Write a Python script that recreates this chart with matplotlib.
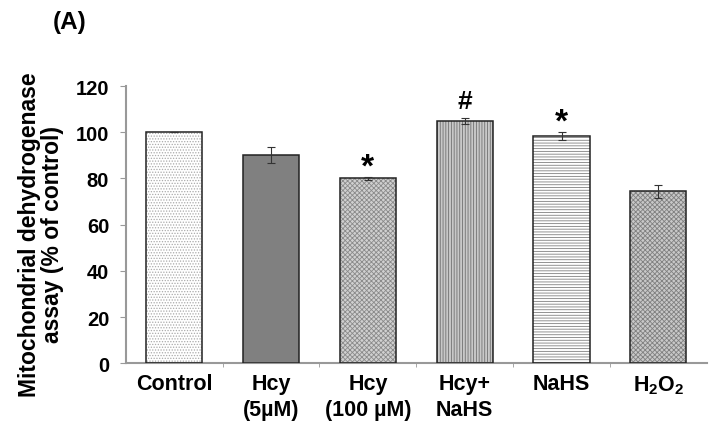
import matplotlib
matplotlib.use("Agg")
import matplotlib.pyplot as plt
import numpy as np

plt.rcParams['font.family'] = ['Liberation Sans', 'DejaVu Sans']
plt.rcParams['mathtext.fontset'] = 'custom'
plt.rcParams['mathtext.rm'] = 'Liberation Sans:bold'
plt.rcParams['mathtext.bf'] = 'Liberation Sans:bold'
plt.rcParams['mathtext.default'] = 'rm'
plt.rcParams['hatch.linewidth'] = 0.6

# data
categories = ['Control', 'Hcy\n(5µM)', 'Hcy\n(100 µM)', 'Hcy+\nNaHS', 'NaHS', 'H$_2$O$_2$']
values = [100, 90, 80, 105, 98.5, 74.5]
errors = [0, 3.5, 0.6, 1.3, 1.8, 2.8]
marks = ['', '', '*', '#', '*', '']

# styles per bar
faces = ['white', '#808080', '#d0d0d0', '#c8c8c8', 'white', '#c8c8c8']
hatches = ['......', None, 'xxxxxxx', '||||||', '------', 'xxxxxxx']
hcolors = ['#aaaaaa', '#808080', '#8a8a8a', '#707070', '#808080', '#808080']
mark_size = {'*': 24, '#': 19}
mark_off = {'*': 0.5, '#': 4.0}

fig = plt.figure(figsize=(7.11, 4.31), dpi=100)
ax = fig.add_axes([0.177, 0.155, 0.817, 0.643])

x = np.arange(len(values))
w = 0.58
for i in range(len(values)):
    ax.bar(x[i], values[i], w, color=faces[i], hatch=hatches[i],
           edgecolor=hcolors[i], linewidth=0, zorder=2)
ax.bar(x, values, w, fill=False, edgecolor='#222222', linewidth=1.1, zorder=3)
ax.errorbar(x, values, yerr=errors, fmt='none', ecolor='#333333',
            elinewidth=0.8, capsize=3, capthick=0.8, zorder=4)

for i, m in enumerate(marks):
    if m:
        ax.text(x[i], values[i] + errors[i] + mark_off[m], m, ha='center',
                va='baseline', fontsize=mark_size[m], fontweight='bold')

ax.set_xlim(-0.5, len(values) - 0.5)
ax.set_ylim(0, 120)
ax.set_yticks(np.arange(0, 121, 20))
ax.set_xticks(x)
ax.set_xticklabels(categories, fontsize=15.5, fontweight='bold', va='top',
                   linespacing=1.3)
ax.set_xticks(np.arange(0.5, len(values) - 0.5, 1), minor=True)
ax.tick_params(axis='x', which='major', length=0, pad=7)
ax.tick_params(axis='x', which='minor', length=3, color='#999999')
ax.tick_params(axis='y', length=4, color='#999999', labelsize=14.5, pad=8)
for lab in ax.get_yticklabels():
    lab.set_fontweight('bold')

for s in ['top', 'right']:
    ax.spines[s].set_visible(False)
for s in ['left', 'bottom']:
    ax.spines[s].set_color('#999999')
    ax.spines[s].set_linewidth(1.5)

ax.set_ylabel('Mitochondrial dehydrogenase\nassay (% of control)',
              fontsize=16.5, fontweight='bold', linespacing=1.0)
ax.yaxis.set_label_coords(-0.107, 0.469)

fig.text(0.0745, 0.947, '(A)', fontsize=17.5, fontweight='bold', ha='left', va='center')

fig.savefig('out.png', dpi=100)
